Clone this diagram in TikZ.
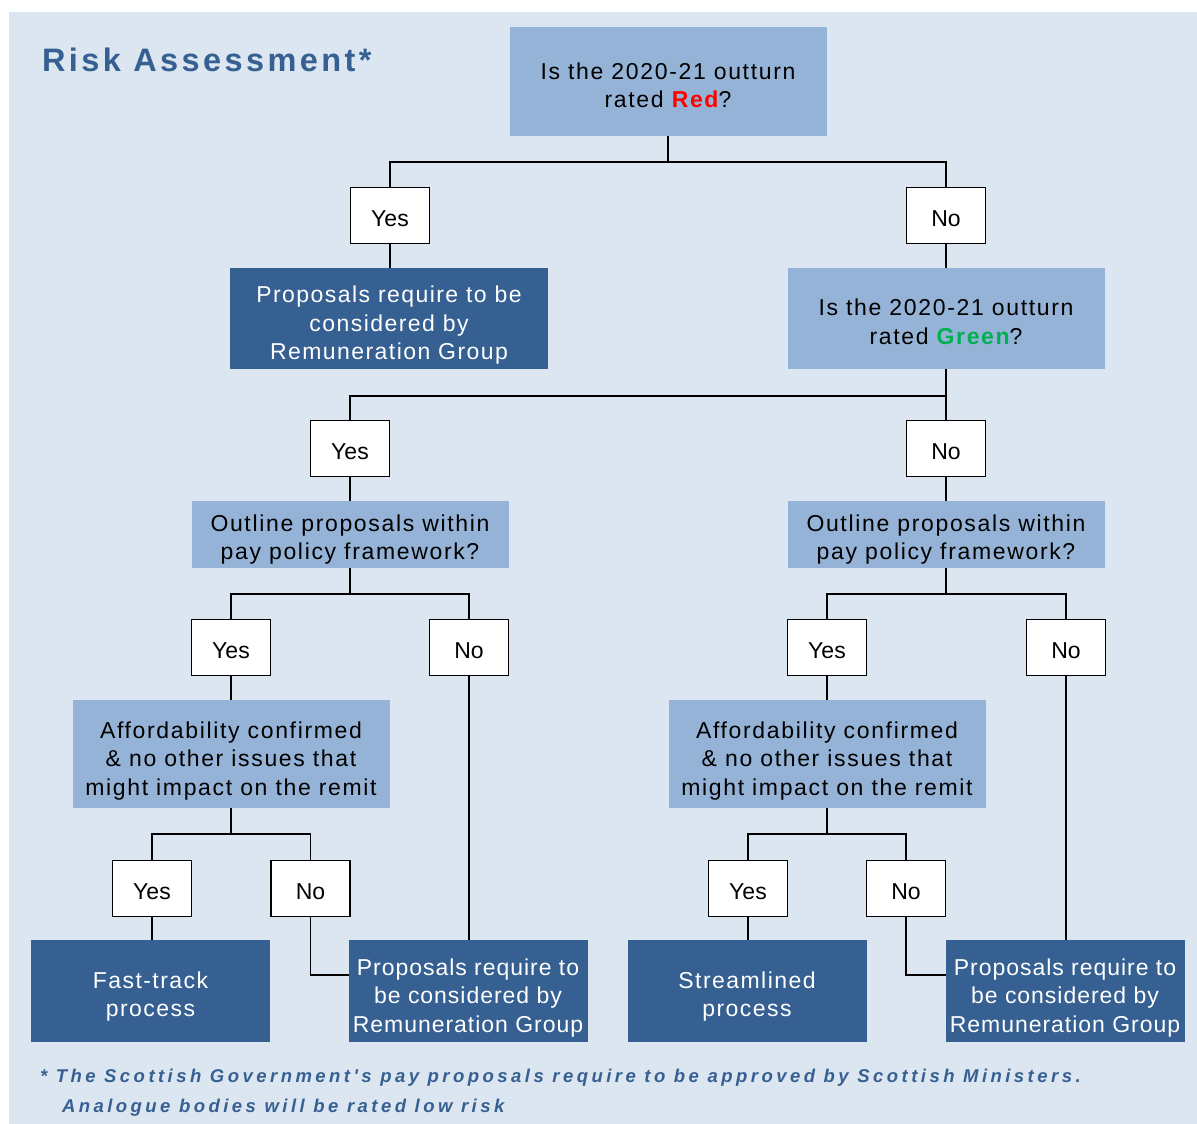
\documentclass[tikz,border=0pt]{standalone}
\usepackage{fontspec}
\setmainfont{Liberation Sans}
\newfontfamily\boxfont[LetterSpace=7.2]{Liberation Sans}
\newfontfamily\darkfont[LetterSpace=6.3]{Liberation Sans}
\newfontfamily\tightfont[LetterSpace=4.2]{Liberation Sans}
\newfontfamily\ynfont{Liberation Sans}
\newfontfamily\titlefont[LetterSpace=10.5]{Liberation Sans}
\newfontfamily\notefont[LetterSpace=18.7]{Liberation Sans}
\definecolor{panelc}{HTML}{DCE6F1}
\definecolor{qfill}{HTML}{95B3D7}
\definecolor{dfill}{HTML}{366092}
\definecolor{titlec}{HTML}{366092}
\definecolor{redc}{HTML}{FF0000}
\definecolor{greenc}{HTML}{00B050}
\begin{document}
\begin{tikzpicture}[x=1pt,y=-1pt,
  every node/.style={inner sep=0pt, outer sep=0pt},
  qbox/.style={fill=qfill, align=center, text=black, font=\boxfont\fontsize{23}{28.5}\selectfont},
  dbox/.style={fill=dfill, align=center, text=white, font=\darkfont\fontsize{23}{28.5}\selectfont},
  tbox/.style={fill=dfill, align=center, text=white, font=\tightfont\fontsize{23}{28.5}\selectfont},
  yn/.style={draw=black, line width=1.8pt, fill=white, minimum width=79pt, minimum height=56pt, text height=22.5pt, text depth=0pt, font=\ynfont\fontsize{23}{28}\selectfont},
  conn/.style={draw=black, line width=1.9pt}]
\useasboundingbox (0,0) rectangle (1197,1124);
\fill[panelc] (9,12) rectangle (1197,1124);

\node[anchor=base west, text=titlec, font=\titlefont\fontsize{32.5}{38}\selectfont\bfseries] (title) at (42,71) {Risk Assessment*};

\node[qbox, minimum width=317pt, minimum height=109pt, text height=53.1pt] (q1) at (668,81.5) {Is the 2020-21 outturn\\rated {\bfseries\color{redc}Red}?};
\node[yn] (y1) at (390,215.5) {Yes};
\node[yn] (n1) at (946,215.5) {No};
\node[dbox, minimum width=318pt, minimum height=101pt, text height=87.6pt] (d1) at (389,318.5) {Proposals require to be\\considered by\\Remuneration Group};
\node[qbox, minimum width=317pt, minimum height=101pt, text height=52.1pt] (q2) at (946,318.5) {Is the 2020-21 outturn\\rated {\bfseries\color{greenc}Green}?};
\coordinate (j1) at (668,162);
\coordinate (j2) at (946,396);
\node[yn] (y2) at (350,448.5) {Yes};
\node[yn] (n2) at (946,448.5) {No};
\node[qbox, minimum width=317pt, minimum height=67pt, text height=55.1pt] (q3) at (350,534.5) {Outline proposals within\\pay policy framework?};
\node[qbox, minimum width=317pt, minimum height=67pt, text height=55.1pt] (q4) at (946,534.5) {Outline proposals within\\pay policy framework?};
\coordinate (j3) at (350,594);
\coordinate (j4) at (946,594);
\node[yn] (y3) at (231,647.5) {Yes};
\node[yn] (n3) at (469,647.5) {No};
\node[yn] (y4) at (827,647.5) {Yes};
\node[yn] (n4) at (1066,647.5) {No};
\node[qbox, minimum width=317pt, minimum height=108pt, text height=87.6pt] (q5) at (231,754) {Affordability confirmed\\\& no other issues that\\might impact on the remit};
\node[qbox, minimum width=317pt, minimum height=108pt, text height=87.6pt] (q6) at (827,754) {Affordability confirmed\\\& no other issues that\\might impact on the remit};
\coordinate (j5) at (231,834);
\coordinate (j6) at (827,834);
\node[yn] (y5) at (152,888.5) {Yes};
\node[yn] (n5) at (310.5,888.5) {No};
\node[yn] (y6) at (748,888.5) {Yes};
\node[yn] (n6) at (906,888.5) {No};
\node[dbox, minimum width=239pt, minimum height=102pt, text height=56.1pt] (f1) at (150.5,991) {Fast-track\\process};
\node[tbox, minimum width=239pt, minimum height=102pt, text height=87.6pt] (r1) at (468,991) {Proposals require to\\be considered by\\Remuneration Group};
\node[dbox, minimum width=239pt, minimum height=102pt, text height=56.1pt] (s1) at (747,991) {Streamlined\\process};
\node[tbox, minimum width=239pt, minimum height=102pt, text height=87.6pt] (r2) at (1065,991) {Proposals require to\\be considered by\\Remuneration Group};

\draw[conn] (q1.south) -- (j1);
\draw[conn] (y1.north) |- (j1) -| (n1.north);
\draw[conn] (y1.south) -- (d1.north -| y1.south);
\draw[conn] (n1.south) -- (q2.north -| n1.south);
\draw[conn] (q2.south) -- (j2);
\draw[conn] (y2.north) |- (j2) -- (n2.north);
\draw[conn] (y2.south) -- (q3.north -| y2.south);
\draw[conn] (n2.south) -- (q4.north -| n2.south);
\draw[conn] (q3.south) -- (j3);
\draw[conn] (y3.north) |- (j3) -| (n3.north);
\draw[conn] (q4.south) -- (j4);
\draw[conn] (y4.north) |- (j4) -| (n4.north);
\draw[conn] (y3.south) -- (q5.north -| y3.south);
\draw[conn] (y4.south) -- (q6.north -| y4.south);
\draw[conn] (n3.south) -- (r1.north -| n3.south);
\draw[conn] (n4.south) -- (r2.north -| n4.south);
\draw[conn] (q5.south) -- (j5);
\draw[conn] (y5.north) |- (j5) -| (n5.north);
\draw[conn] (q6.south) -- (j6);
\draw[conn] (y6.north) |- (j6) -| (n6.north);
\draw[conn] (y5.south) -- (f1.north -| y5.south);
\draw[conn] (y6.south) -- (s1.north -| y6.south);
\draw[conn] (n5.south) |- ([yshift=16pt]r1.west);
\draw[conn] (n6.south) |- ([yshift=16pt]r2.west);

\node[anchor=base west, text=titlec, font=\notefont\fontsize{18.5}{22}\selectfont\bfseries\itshape] (note1) at (40,1082) {* The Scottish Government's pay proposals require to be approved by Scottish Ministers.};
\node[anchor=base west, text=titlec, font=\notefont\fontsize{18.5}{22}\selectfont\bfseries\itshape] (note2) at (62,1112) {Analogue bodies will be rated low risk};
\end{tikzpicture}
\end{document}
